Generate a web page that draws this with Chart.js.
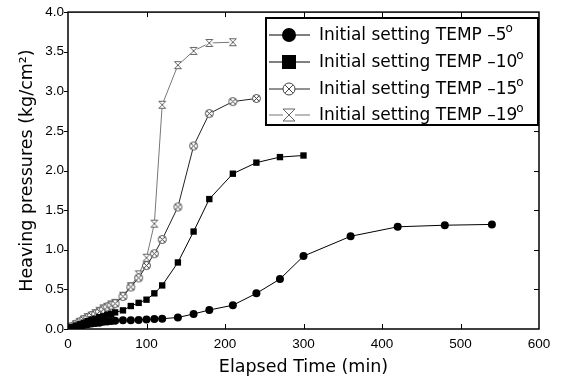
<!DOCTYPE html>
<html>
<head>
<meta charset="utf-8">
<script src="https://cdn.jsdelivr.net/npm/chart.js@4.4.1/dist/chart.umd.min.js"></script>
<style>
  html, body { margin: 0; padding: 0; background: #fff; }
  #wrap { width: 563px; height: 385px; }
</style>
</head>
<body>
<div id="wrap"><canvas id="heave"></canvas></div>
<script>
// elapsed time (min) per series
const times5 = [0, 5, 10, 15, 20, 25, 30, 35, 40, 45, 50, 55, 60, 70, 80, 90, 100, 110, 120, 140, 160, 180, 210, 240, 270, 300, 360, 420, 480, 540];
const times10 = [0, 5, 10, 15, 20, 25, 30, 35, 40, 45, 50, 55, 60, 70, 80, 90, 100, 110, 120, 140, 160, 180, 210, 240, 270, 300];
const times15 = [0, 5, 10, 15, 20, 25, 30, 35, 40, 45, 50, 55, 60, 70, 80, 90, 100, 110, 120, 140, 160, 180, 210, 240];
const times19 = [0, 5, 10, 15, 20, 25, 30, 35, 40, 45, 50, 55, 60, 70, 80, 90, 100, 110, 120, 140, 160, 180, 210];

// heaving pressure (kg/cm2)
const pressure5 = [0, 0.015, 0.03, 0.04, 0.05, 0.06, 0.07, 0.075, 0.08, 0.09, 0.095, 0.1, 0.105, 0.11, 0.11, 0.115, 0.12, 0.125, 0.13, 0.145, 0.19, 0.24, 0.30, 0.45, 0.63, 0.92, 1.17, 1.29, 1.31, 1.32];
const pressure10 = [0, 0.02, 0.04, 0.06, 0.08, 0.10, 0.12, 0.13, 0.15, 0.16, 0.18, 0.19, 0.21, 0.235, 0.29, 0.33, 0.37, 0.45, 0.55, 0.84, 1.23, 1.64, 1.96, 2.10, 2.17, 2.19];
const pressure15 = [0, 0.03, 0.06, 0.09, 0.12, 0.14, 0.17, 0.19, 0.22, 0.25, 0.28, 0.30, 0.32, 0.41, 0.53, 0.645, 0.80, 0.95, 1.13, 1.54, 2.31, 2.72, 2.87, 2.91];
const pressure19 = [0, 0.03, 0.06, 0.09, 0.12, 0.15, 0.17, 0.20, 0.23, 0.26, 0.28, 0.31, 0.33, 0.42, 0.54, 0.69, 0.90, 1.33, 2.83, 3.33, 3.51, 3.61, 3.62];

const seriesTemps = ['–5', '–10', '–15', '–19'];
const legendPrefix = 'Initial setting TEMP ';

const TICK_FONT = "Arial, 'Liberation Sans', Helvetica, sans-serif";
const TEXT_FONT = "'DejaVu Sans', Verdana, sans-serif";

// marker drawers, reused for plot points and legend
function drawMarker(ctx, kind, x, y, r) {
    ctx.save();
    ctx.lineWidth = 1;
    if (kind === 'circle') {
        ctx.fillStyle = '#000';
        ctx.beginPath();
        ctx.arc(x, y, r, 0, Math.PI * 2);
        ctx.fill();
    } else if (kind === 'square') {
        ctx.fillStyle = '#000';
        ctx.fillRect(x - r, y - r, r * 2, r * 2);
    } else if (kind === 'circleX') {
        ctx.strokeStyle = '#444';
        ctx.fillStyle = '#fff';
        ctx.beginPath();
        ctx.arc(x, y, r, 0, Math.PI * 2);
        ctx.fill();
        ctx.stroke();
        const d = r * 0.65;
        ctx.beginPath();
        ctx.moveTo(x - d, y - d); ctx.lineTo(x + d, y + d);
        ctx.moveTo(x + d, y - d); ctx.lineTo(x - d, y + d);
        ctx.stroke();
    } else if (kind === 'boxX') {
        ctx.strokeStyle = '#666';
        ctx.fillStyle = '#fff';
        ctx.fillRect(x - r, y - r, r * 2, r * 2);
        ctx.beginPath();
        ctx.moveTo(x - r, y - r); ctx.lineTo(x + r, y - r);
        ctx.moveTo(x - r, y + r); ctx.lineTo(x + r, y + r);
        ctx.moveTo(x - r, y - r); ctx.lineTo(x + r, y + r);
        ctx.moveTo(x + r, y - r); ctx.lineTo(x - r, y + r);
        ctx.stroke();
    }
    ctx.restore();
}

function markerCanvas(kind, r) {
    const c = document.createElement('canvas');
    const s = Math.ceil(r * 2 + 3);
    c.width = s; c.height = s;
    drawMarker(c.getContext('2d'), kind, s / 2, s / 2, r);
    return c;
}

const markerKinds = ['circle', 'square', 'circleX', 'boxX'];
const lineColors = ['#000', '#000', '#222', '#777'];

function toPoints(xs, ys) {
    return xs.map((t, i) => ({ x: t, y: ys[i] }));
}

// first dataset is drawn on top
const datasets = [
    { data: toPoints(times5, pressure5), pointStyle: 'circle', pointRadius: 4, backgroundColor: '#000' },
    { data: toPoints(times10, pressure10), pointStyle: 'rect', pointRadius: 4.5, backgroundColor: '#000' },
    { data: toPoints(times15, pressure15), pointStyle: markerCanvas('circleX', 4) },
    { data: toPoints(times19, pressure19), pointStyle: markerCanvas('boxX', 3.5) }
].map((d, i) => Object.assign({
    label: legendPrefix + seriesTemps[i],
    borderColor: lineColors[i],
    borderWidth: 1,
    pointBorderColor: '#000',
    pointBorderWidth: 0,
    tension: 0,
    showLine: true
}, d));

// frame with inward ticks, like the original plot
const framePlugin = {
    id: 'frame',
    afterDatasetsDraw(chart) {
        const { ctx, chartArea: a, scales } = chart;
        ctx.save();
        ctx.strokeStyle = '#000';
        ctx.lineWidth = 1.5;
        ctx.strokeRect(a.left, a.top, a.right - a.left, a.bottom - a.top);
        ctx.lineWidth = 1;
        ctx.beginPath();
        scales.x.ticks.forEach(t => {
            if (t.value <= 0 || t.value >= 600) return;
            const px = Math.round(scales.x.getPixelForValue(t.value)) + 0.5;
            ctx.moveTo(px, a.bottom); ctx.lineTo(px, a.bottom - 5);
            ctx.moveTo(px, a.top); ctx.lineTo(px, a.top + 5);
        });
        scales.y.ticks.forEach(t => {
            const py = Math.round(scales.y.getPixelForValue(t.value)) + 0.5;
            ctx.moveTo(a.left - 4, py); ctx.lineTo(a.left, py);
            if (t.value > 0 && t.value < 4) {
                ctx.moveTo(a.right, py); ctx.lineTo(a.right - 5, py);
            }
        });
        ctx.stroke();
        ctx.restore();
    },
    afterDraw(chart) {
        // boxed legend inside the plot, top right
        const { ctx } = chart;
        const box = { left: 266, top: 18, right: 538, bottom: 125 };
        ctx.save();
        ctx.fillStyle = '#fff';
        ctx.fillRect(box.left, box.top, box.right - box.left, box.bottom - box.top);
        ctx.strokeStyle = '#000';
        ctx.lineWidth = 2;
        ctx.strokeRect(box.left, box.top, box.right - box.left, box.bottom - box.top);
        const rowY = [35, 62, 89, 115];
        const sizes = [7, 7, 6, 6];
        seriesTemps.forEach((temp, i) => {
            const y = rowY[i];
            ctx.strokeStyle = lineColors[i];
            ctx.lineWidth = 1;
            ctx.beginPath();
            ctx.moveTo(269, y); ctx.lineTo(310, y);
            ctx.stroke();
            drawMarker(ctx, markerKinds[i], 289, y, sizes[i]);
            ctx.fillStyle = '#000';
            ctx.font = '17px ' + TEXT_FONT;
            ctx.textBaseline = 'middle';
            ctx.textAlign = 'left';
            const txt = legendPrefix + temp;
            ctx.fillText(txt, 319, y + 1);
            const w = ctx.measureText(txt).width;
            ctx.font = '12px ' + TEXT_FONT;
            ctx.fillText('o', 319 + w - 1, y - 6);
        });
        ctx.restore();
    }
};

new Chart(document.getElementById('heave'), {
    type: 'scatter',
    data: { datasets },
    options: {
        responsive: true,
        maintainAspectRatio: false,
        animation: false,
        layout: { padding: { top: 12, right: 24, left: 0, bottom: 0 } },
        plugins: {
            legend: { display: false },
            tooltip: { enabled: false }
        },
        scales: {
            x: {
                type: 'linear',
                min: 0,
                max: 600,
                afterFit: s => { s.height = 56; },
                grid: { display: false, drawTicks: false },
                border: { display: false },
                ticks: { stepSize: 100, color: '#000', padding: 7, font: { size: 13.5, family: TICK_FONT } },
                title: {
                    display: true,
                    text: 'Elapsed Time (min)',
                    color: '#000',
                    font: { size: 17.5, family: TEXT_FONT },
                    padding: { top: 0, bottom: 7 }
                }
            },
            y: {
                min: 0,
                max: 4,
                afterFit: s => { s.width = 68; },
                grid: { display: false, drawTicks: false },
                border: { display: false },
                ticks: {
                    stepSize: 0.5,
                    color: '#000',
                    padding: 4,
                    font: { size: 13.5, family: TICK_FONT },
                    callback: v => v.toFixed(1)
                },
                title: {
                    display: true,
                    text: 'Heaving pressures (kg/cm\u00B2)',
                    color: '#000',
                    font: { size: 17.5, family: TEXT_FONT },
                    padding: { top: 17, bottom: 0 }
                }
            }
        }
    },
    plugins: [framePlugin]
});
</script>
</body>
</html>
